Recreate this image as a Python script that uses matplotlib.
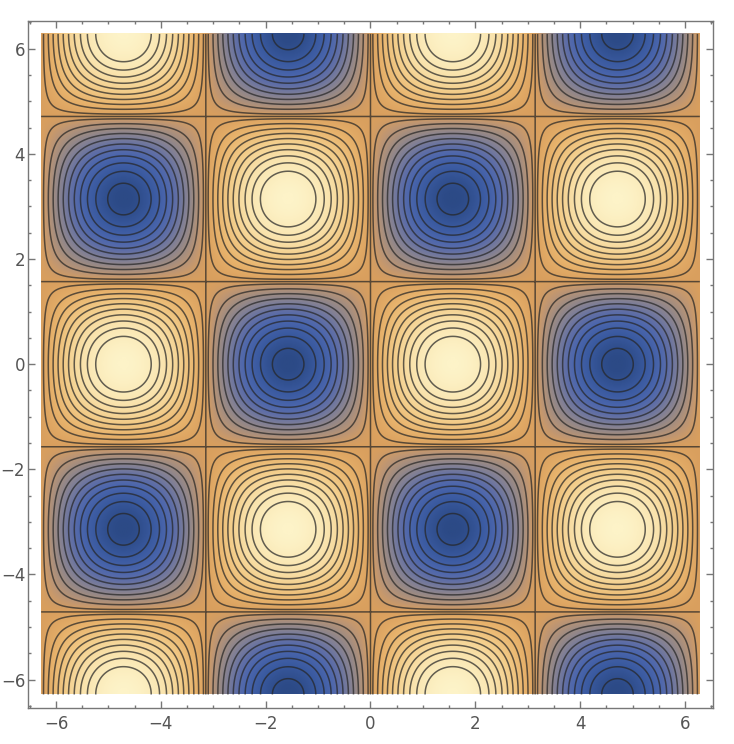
import numpy as np
import matplotlib
matplotlib.use("Agg")
import matplotlib.pyplot as plt
from matplotlib.colors import LinearSegmentedColormap
from matplotlib.ticker import MultipleLocator

# f(x, y) = sin(x) cos(y) on [-2pi, 2pi]^2
x_range = (-2 * np.pi, 2 * np.pi)
y_range = (-2 * np.pi, 2 * np.pi)
n_samples = 600

# contour levels (step 1/11, asymmetric ends, plus zero)
levels = sorted(list(np.round(-0.955 + np.arange(21) / 11, 4)) + [0.0])

# colour stops (value, colour)
cmap_stops = [
    (-1.00, "#2c4a86"),
    (-0.85, "#3a5aa0"),
    (-0.68, "#4b66ad"),
    (-0.55, "#5f6ea6"),
    (-0.40, "#7d7e98"),
    (-0.25, "#9a8a84"),
    (-0.10, "#bf9672"),
    (0.00, "#d99f5e"),
    (0.20, "#e8b36c"),
    (0.45, "#f3cd8a"),
    (0.70, "#f9e2ab"),
    (1.00, "#fdf3c8"),
]

xs = np.linspace(*x_range, n_samples)
ys = np.linspace(*y_range, n_samples)
X, Y = np.meshgrid(xs, ys)
Z = np.sin(X) * np.cos(Y)

cmap = LinearSegmentedColormap.from_list(
    "m10", [((v + 1) / 2, c) for v, c in cmap_stops])

fig = plt.figure(figsize=(7.34, 7.44), dpi=100)
ax = fig.add_axes([0.0381, 0.0488, 0.9333, 0.9234])

ax.imshow(Z, extent=[*x_range, *y_range], origin="lower", cmap=cmap,
          vmin=-1, vmax=1, interpolation="bilinear", aspect="auto")
ax.contour(X, Y, Z, levels=levels, colors="#262626", linewidths=1.1,
           linestyles="solid", alpha=0.72)

pad = 0.02 * (x_range[1] - x_range[0])
ax.set_xlim(x_range[0] - pad, x_range[1] + pad)
ax.set_ylim(y_range[0] - pad, y_range[1] + pad)

ax.xaxis.set_major_locator(MultipleLocator(2))
ax.yaxis.set_major_locator(MultipleLocator(2))
ax.xaxis.set_minor_locator(MultipleLocator(0.5))
ax.yaxis.set_minor_locator(MultipleLocator(0.5))
ax.tick_params(which="both", direction="in", top=True, right=True,
               color="#777777", width=1)
ax.tick_params(which="major", length=5, labelsize=12, labelcolor="#555555")
ax.tick_params(axis="y", which="major", pad=2)
ax.tick_params(axis="x", which="major", pad=5)
ax.tick_params(which="minor", length=2.5)
ax.tick_params(axis="x", which="both", labeltop=False)
ax.tick_params(axis="y", which="both", labelright=False)
for spine in ax.spines.values():
    spine.set_color("#777777")
    spine.set_linewidth(1)

fig.savefig("out.png", dpi=100)
